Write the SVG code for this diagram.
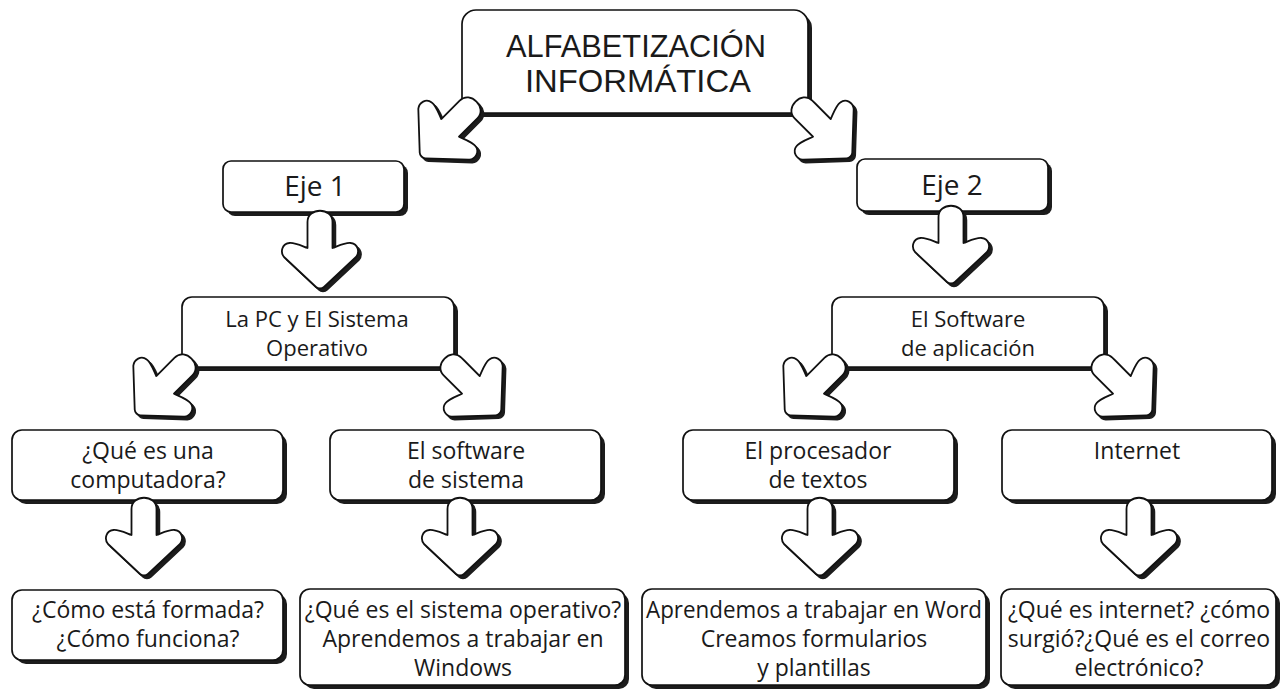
<svg xmlns="http://www.w3.org/2000/svg" xmlns:xlink="http://www.w3.org/1999/xlink" width="1282" height="692" viewBox="0 0 1282 692">
<style>
.bg{fill:#ffffff}
.sh{fill:#1c1c1c}
.bx{fill:#ffffff;stroke:#111;stroke-width:1.7}
.ash{fill:#1c1c1c;stroke:#1c1c1c;stroke-width:1.5}
.af{fill:#ffffff;stroke:#111;stroke-width:1.8;stroke-linejoin:round}
.t{font-family:"Open Sans","Noto Sans","DejaVu Sans",sans-serif;font-size:23px;fill:#1a1a1a;text-anchor:middle}
.tm{font-family:"Open Sans","Noto Sans","DejaVu Sans",sans-serif;font-size:22px;fill:#1a1a1a;text-anchor:middle}
.te{font-family:"Open Sans","Noto Sans","DejaVu Sans",sans-serif;font-size:28px;fill:#1a1a1a;text-anchor:middle}
.tt{font-family:"Liberation Sans",Arial,sans-serif;font-size:31px;fill:#1a1a1a;text-anchor:middle}
</style>
<defs>
<path id="arr" d="M -12.5,12 C -12.5,-3 12.5,-3 12.5,12 L 12.5,38 C 18,36 26,32 31,33 C 38,34 40,42 36,47 L 4,77 C 2,79 -2,79 -4,77 L -36,47 C -40,42 -38,34 -31,33 C -26,32 -18,36 -12.5,38 Z"/>
</defs>
<rect class="bg" x="0" y="0" width="1282" height="692"/>

<g id="nodes">
<g id="n-alfabetizacion">
<rect class="sh" x="466" y="14" width="346" height="103" rx="14"/>
<rect class="bx" x="462" y="10" width="346" height="103" rx="14"/>
<text class="tt" x="636" y="57" textLength="260" lengthAdjust="spacingAndGlyphs">ALFABETIZACIÓN</text>
<text class="tt" x="638" y="92" textLength="226" lengthAdjust="spacingAndGlyphs">INFORMÁTICA</text>
</g>
<g id="n-eje1">
<rect class="sh" x="227" y="165" width="181" height="51" rx="8"/>
<rect class="bx" x="223" y="161" width="181" height="51" rx="8"/>
<text class="te" x="315" y="196">Eje 1</text>
</g>
<g id="n-eje2">
<rect class="sh" x="861" y="163" width="191" height="52" rx="8"/>
<rect class="bx" x="857" y="159" width="191" height="52" rx="8"/>
<text class="te" x="952" y="195">Eje 2</text>
</g>
<g id="n-lapc">
<rect class="sh" x="186" y="301" width="272" height="70" rx="10"/>
<rect class="bx" x="182" y="297" width="272" height="70" rx="10"/>
<text class="tm" x="317" y="327">La PC y El Sistema</text>
<text class="tm" x="317" y="356">Operativo</text>
</g>
<g id="n-software-aplicacion">
<rect class="sh" x="836" y="301" width="272" height="70" rx="10"/>
<rect class="bx" x="832" y="297" width="272" height="70" rx="10"/>
<text class="tm" x="968" y="327">El Software</text>
<text class="tm" x="968" y="356">de aplicación</text>
</g>
<g id="n-que-es-computadora">
<rect class="sh" x="16" y="434" width="271" height="70" rx="10"/>
<rect class="bx" x="12" y="430" width="271" height="70" rx="10"/>
<text class="t" x="148" y="459">¿Qué es una</text>
<text class="t" x="148" y="488">computadora?</text>
</g>
<g id="n-software-sistema">
<rect class="sh" x="334" y="434" width="271" height="70" rx="10"/>
<rect class="bx" x="330" y="430" width="271" height="70" rx="10"/>
<text class="t" x="466" y="459">El software</text>
<text class="t" x="466" y="488">de sistema</text>
</g>
<g id="n-procesador">
<rect class="sh" x="687" y="434" width="271" height="70" rx="10"/>
<rect class="bx" x="683" y="430" width="271" height="70" rx="10"/>
<text class="t" x="818" y="459">El procesador</text>
<text class="t" x="818" y="488">de textos</text>
</g>
<g id="n-internet">
<rect class="sh" x="1006" y="434" width="270" height="70" rx="10"/>
<rect class="bx" x="1002" y="430" width="270" height="70" rx="10"/>
<text class="t" x="1137" y="459">Internet</text>
</g>
<g id="n-como-formada">
<rect class="sh" x="16" y="594" width="271" height="70" rx="10"/>
<rect class="bx" x="12" y="590" width="271" height="70" rx="10"/>
<text class="t" x="148" y="618">¿Cómo está formada?</text>
<text class="t" x="148" y="647">¿Cómo funciona?</text>
</g>
<g id="n-sistema-operativo">
<rect class="sh" x="304" y="593" width="325" height="96" rx="10"/>
<rect class="bx" x="300" y="589" width="325" height="96" rx="10"/>
<text class="t" x="463" y="618">¿Qué es el sistema operativo?</text>
<text class="t" x="463" y="647">Aprendemos a trabajar en</text>
<text class="t" x="463" y="676">Windows</text>
</g>
<g id="n-word">
<rect class="sh" x="646" y="593" width="344" height="96" rx="10"/>
<rect class="bx" x="642" y="589" width="344" height="96" rx="10"/>
<text class="t" x="814" y="618" textLength="336" lengthAdjust="spacingAndGlyphs">Aprendemos a trabajar en Word</text>
<text class="t" x="814" y="647">Creamos formularios</text>
<text class="t" x="814" y="676">y plantillas</text>
</g>
<g id="n-que-es-internet">
<rect class="sh" x="1005" y="593" width="275" height="96" rx="10"/>
<rect class="bx" x="1001" y="589" width="275" height="96" rx="10"/>
<text class="t" x="1139" y="618">¿Qué es internet? ¿cómo</text>
<text class="t" x="1139" y="647">surgió?¿Qué es el correo</text>
<text class="t" x="1139" y="676">electrónico?</text>
</g>
</g>

<g id="connectors">
<use xlink:href="#arr" class="ash" transform="translate(480,104) rotate(45)"/>
<use xlink:href="#arr" class="af" transform="translate(477,101) rotate(45)"/>
<use xlink:href="#arr" class="ash" transform="translate(798,104) rotate(-45)"/>
<use xlink:href="#arr" class="af" transform="translate(795,101) rotate(-45)"/>
<use xlink:href="#arr" class="ash" transform="translate(323,213)"/>
<use xlink:href="#arr" class="af" transform="translate(320,210)"/>
<use xlink:href="#arr" class="ash" transform="translate(954,208)"/>
<use xlink:href="#arr" class="af" transform="translate(951,205)"/>
<use xlink:href="#arr" class="ash" transform="translate(195,361) rotate(45)"/>
<use xlink:href="#arr" class="af" transform="translate(192,358) rotate(45)"/>
<use xlink:href="#arr" class="ash" transform="translate(447,361) rotate(-45)"/>
<use xlink:href="#arr" class="af" transform="translate(444,358) rotate(-45)"/>
<use xlink:href="#arr" class="ash" transform="translate(845,361) rotate(45)"/>
<use xlink:href="#arr" class="af" transform="translate(842,358) rotate(45)"/>
<use xlink:href="#arr" class="ash" transform="translate(1098,361) rotate(-45)"/>
<use xlink:href="#arr" class="af" transform="translate(1095,358) rotate(-45)"/>
<use xlink:href="#arr" class="ash" transform="translate(147,500)"/>
<use xlink:href="#arr" class="af" transform="translate(144,497)"/>
<use xlink:href="#arr" class="ash" transform="translate(463,500)"/>
<use xlink:href="#arr" class="af" transform="translate(460,497)"/>
<use xlink:href="#arr" class="ash" transform="translate(823,500)"/>
<use xlink:href="#arr" class="af" transform="translate(820,497)"/>
<use xlink:href="#arr" class="ash" transform="translate(1142,500)"/>
<use xlink:href="#arr" class="af" transform="translate(1139,497)"/>
</g>
</svg>
